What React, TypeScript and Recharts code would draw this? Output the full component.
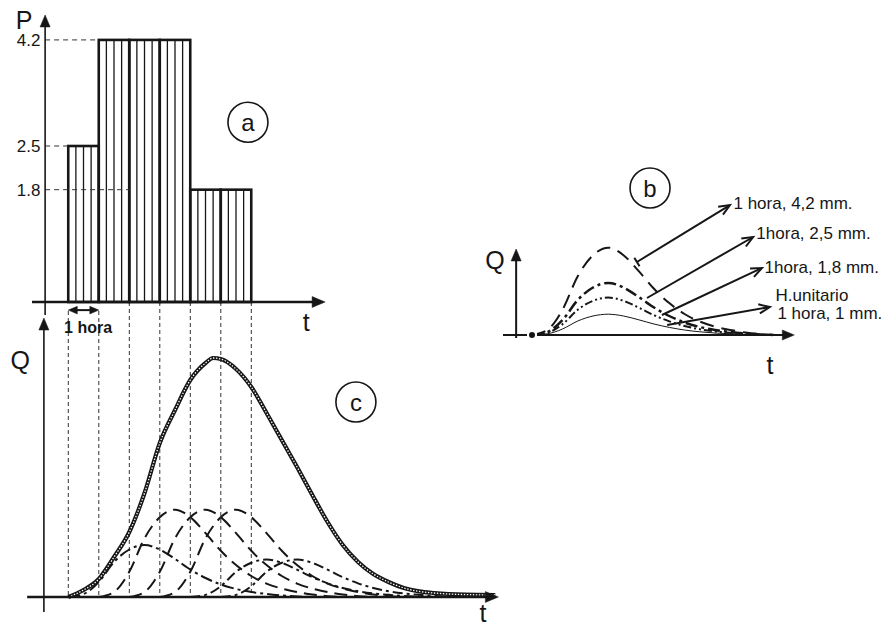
import React from 'react';
import { ComposedChart, Line, Bar, XAxis, YAxis, ReferenceLine, ReferenceDot } from 'recharts';

// rainfall hyetograph (a): hour start and depth in mm
const rainStart = [0, 1, 2, 3, 4, 5];
const rainDepth = [2.5, 4.2, 4.2, 4.2, 1.8, 1.8];
const pTicks = [4.2, 2.5, 1.8];
const pTickReach = [1, 0, 2]; // hour where each dashed guide stops

// unit hydrograph (1 hora, 1 mm)
const uhTime = [0, 0.5, 1, 1.5, 2, 2.5, 3, 3.5, 4, 4.5, 5, 5.5, 6, 6.5, 7, 7.5, 8];
const uhFlow = [0, 0.6, 3.0, 7.0, 9.5, 10.4, 9.5, 7.6, 5.5, 3.8, 2.5, 1.6, 1.0, 0.6, 0.3, 0.1, 0];

// total hydrograph (c)
const totalTime = [0, 0.5, 1, 1.5, 2, 2.5, 3, 3.5, 4, 4.5, 4.75, 5, 5.5, 6, 6.5, 7, 7.5, 8, 8.5, 9, 9.5, 10, 10.5, 11, 11.5, 12, 13, 14];
const totalFlow = [0, 3.5, 9, 20, 32.5, 52, 77, 93.5, 108.5, 117, 119.5, 119, 114, 105, 92, 78.5, 65, 51, 37.5, 26, 17.5, 11.5, 7.5, 4.5, 2.8, 2, 1.2, 1];

// panel (b)
const bDepth = [4.2, 2.5, 1.8, 1];

const W = 889;
const H = 626;
const HOUR_PX = 30.5;
const INK = '#161616';
const FONT = '"Liberation Sans", Arial, Helvetica, sans-serif';

const acX: [number, number] = [-68.3 / HOUR_PX, (W - 68.3) / HOUR_PX];
const bX: [number, number] = [-532 / HOUR_PX, (W - 532) / HOUR_PX];
const pDomain: [number, number] = [(302 - H) / 62.4, 302 / 62.4];
const qDomain: [number, number] = [(597 - H) / 2, 597 / 2];
const bqDomain: [number, number] = [(335 - H) / 2, 335 / 2];

const rainData = rainStart.map((s, i) => ({ t: s + 0.5, p: rainDepth[i] }));
const components = rainStart.map((s, i) => uhTime.map((u, k) => ({ t: s + u, q: rainDepth[i] * uhFlow[k] })));
const totalData = totalTime.map((t, i) => ({ t, q: totalFlow[i] }));
const bCurves = bDepth.map(d => uhTime.map((u, k) => ({ t: u, q: d * uhFlow[k] })));

const compDash = ['12 4 3 4', '13 7', '13 7', '13 7', '10 4 3 4', '10 4 3 4'];
const bDash = ['14 8', '12 4 3 4', '8 3 2 3 2 3', undefined];
const bWidth = [2, 2.5, 2, 1];

const txt = (value: string, fontSize: number, position = 'center', extra: any = {}) => ({
  value, position, offset: 0, fontSize, fill: INK, fontFamily: FONT, ...extra,
});

// line with arrow heads (filled or open)
const arrow = (opts: { both?: boolean; head?: number; open?: boolean; tick?: boolean } = {}) => (p: any) => {
  const { x1, y1, x2, y2 } = p;
  const head = opts.head ?? 10;
  const sw = p.strokeWidth ?? 1.5;
  const a = Math.atan2(y2 - y1, x2 - x1);
  const pts = (x: number, y: number, ang: number) => {
    const w = head * 0.42;
    const bx = x - head * Math.cos(ang);
    const by = y - head * Math.sin(ang);
    return [
      [bx + w * Math.sin(ang), by - w * Math.cos(ang)],
      [x, y],
      [bx - w * Math.sin(ang), by + w * Math.cos(ang)],
    ];
  };
  const cut = opts.open ? 1 : head * 0.7;
  const sx = opts.both ? x1 + cut * Math.cos(a) : x1;
  const sy = opts.both ? y1 + cut * Math.sin(a) : y1;
  const ex = x2 - cut * Math.cos(a);
  const ey = y2 - cut * Math.sin(a);
  const headEl = (x: number, y: number, ang: number) => {
    const h = pts(x, y, ang).map(q => q.join(',')).join(' ');
    return opts.open
      ? <polyline points={h} fill="none" stroke={INK} strokeWidth={sw} strokeLinejoin="miter" />
      : <polygon points={h} fill={INK} stroke={INK} strokeWidth={0.5} />;
  };
  return (
    <g>
      <line x1={sx} y1={sy} x2={ex} y2={ey} stroke={INK} strokeWidth={sw} />
      {headEl(x2, y2, a)}
      {opts.both && headEl(x1, y1, a + Math.PI)}
      {opts.tick && (
        <line x1={x1 - 5 * Math.sin(a)} y1={y1 + 5 * Math.cos(a)} x2={x1 + 5 * Math.sin(a)} y2={y1 - 5 * Math.cos(a)} stroke={INK} strokeWidth={sw} />
      )}
    </g>
  );
};

// each rain bar spans one full hour around its centre, hatched in quarters
const hatchBar = (props: any) => {
  const { x, y, width, height } = props;
  if (!height) return <g />;
  const left = x + width / 2 - HOUR_PX / 2;
  return (
    <g>
      {[1, 2, 3].map(k => (
        <line key={k} x1={left + (HOUR_PX * k) / 4} x2={left + (HOUR_PX * k) / 4} y1={y} y2={y + height} stroke={INK} strokeWidth={1.3} />
      ))}
      <rect x={left} y={y} width={HOUR_PX} height={height} fill="none" stroke={INK} strokeWidth={2.6} />
    </g>
  );
};

const Marker = (x: number, y: number, axis: string, label: any, key?: string) => (
  <ReferenceDot key={key} x={x} y={y} yAxisId={axis} r={0.5} fill="none" stroke="none" ifOverflow="visible" label={label} />
);

const Panel = (x: number, y: number, axis: string, letter: string) => (
  <ReferenceDot x={x} y={y} yAxisId={axis} r={20} fill="#fff" stroke={INK} strokeWidth={1.6} ifOverflow="visible" label={txt(letter, 24)} />
);

export default function App() {
  return (
    <div style={{ position: 'fixed', left: 0, top: 0, width: W, height: H, background: '#fff', fontFamily: FONT }}>
      <div style={{ position: 'absolute', left: 0, top: 0 }}>
        <ComposedChart width={W} height={H} data={rainData} margin={{ top: 0, right: 0, bottom: 0, left: 0 }}>
          <XAxis dataKey="t" type="number" domain={acX} allowDataOverflow hide />
          <YAxis yAxisId="p" type="number" domain={pDomain} allowDataOverflow hide />
          <YAxis yAxisId="q" type="number" domain={qDomain} allowDataOverflow hide />

          <Bar dataKey="p" yAxisId="p" shape={hatchBar} isAnimationActive={false} />

          {pTicks.map((v, i) => (
            <ReferenceLine key={'g' + i} yAxisId="p" ifOverflow="visible" stroke="#333" strokeWidth={1} strokeDasharray="5 4"
              segment={[{ x: -0.76, y: v }, { x: pTickReach[i], y: v }]} />
          ))}
          {pTicks.map((v, i) => Marker(-0.9, v, 'p', txt(String(v), 17, 'left'), 'pt' + i))}
          {[0, 1, 2, 3, 4, 5, 6].map(h => (
            <ReferenceLine key={'v' + h} yAxisId="q" ifOverflow="visible" stroke="#333" strokeWidth={1} strokeDasharray="4 3"
              segment={[{ x: h, y: h < 2 ? 143 : 147.5 }, { x: h, y: 0 }]} />
          ))}

          {components.map((d, i) => (
            <Line key={'c' + i} data={d} dataKey="q" yAxisId="q" type="monotone" dot={false} stroke={INK}
              strokeWidth={2} strokeDasharray={compDash[i]} isAnimationActive={false} />
          ))}
          <Line data={totalData} dataKey="q" yAxisId="q" type="monotone" dot={false} stroke={INK} strokeWidth={4.2} isAnimationActive={false} />
          <Line data={totalData} dataKey="q" yAxisId="q" type="monotone" dot={false} stroke="#fff" strokeWidth={1.3} strokeDasharray="1.4 1.6" isAnimationActive={false} />

          {/* axes of (a) */}
          <ReferenceLine yAxisId="p" ifOverflow="visible" strokeWidth={2.5} shape={arrow({ head: 13 })}
            segment={[{ x: -1.19, y: 0 }, { x: 8.42, y: 0 }]} />
          <ReferenceLine yAxisId="p" ifOverflow="visible" strokeWidth={1.6} shape={arrow({ head: 12 })}
            segment={[{ x: -0.76, y: -0.21 }, { x: -0.76, y: 4.6 }]} />
          <ReferenceLine yAxisId="p" ifOverflow="visible" strokeWidth={2} shape={arrow({ both: true, head: 9 })}
            segment={[{ x: 0, y: -0.13 }, { x: 1, y: -0.13 }]} />
          {/* axes of (c) */}
          <ReferenceLine yAxisId="q" ifOverflow="visible" strokeWidth={2.5} shape={arrow({ head: 13 })}
            segment={[{ x: -1.35, y: 0 }, { x: 14.1, y: 0 }]} />
          <ReferenceLine yAxisId="q" ifOverflow="visible" strokeWidth={1.6} shape={arrow({ head: 12 })}
            segment={[{ x: -0.8, y: -7.5 }, { x: -0.8, y: 139.5 }]} />

          {Marker(-1.45, 4.52, 'p', txt('P', 25))}
          {Marker(7.8, -0.32, 'p', txt('t', 25))}
          {Marker(0.65, -0.4, 'p', txt('1 hora', 16, 'center', { fontWeight: 'bold' }))}
          {Marker(-1.58, 118.5, 'q', txt('Q', 25))}
          {Marker(13.6, -8, 'q', txt('t', 25))}
          {Panel(5.89, 2.88, 'p', 'a')}
          {Panel(9.43, 97.5, 'q', 'c')}
        </ComposedChart>
      </div>

      <div style={{ position: 'absolute', left: 0, top: 0 }}>
        <ComposedChart width={W} height={H} margin={{ top: 0, right: 0, bottom: 0, left: 0 }}>
          <XAxis dataKey="t" type="number" domain={bX} allowDataOverflow hide />
          <YAxis yAxisId="b" type="number" domain={bqDomain} allowDataOverflow hide />

          {bCurves.map((d, i) => (
            <Line key={'b' + i} data={d} dataKey="q" yAxisId="b" type="monotone" dot={false} stroke={INK}
              strokeWidth={bWidth[i]} strokeDasharray={bDash[i]} isAnimationActive={false} />
          ))}

          <ReferenceLine yAxisId="b" ifOverflow="visible" strokeWidth={2} shape={arrow({ head: 12 })}
            segment={[{ x: -0.95, y: 0 }, { x: 8.6, y: 0 }]} />
          <ReferenceLine yAxisId="b" ifOverflow="visible" strokeWidth={2} shape={arrow({ head: 12 })}
            segment={[{ x: -0.52, y: -1.5 }, { x: -0.52, y: 43 }]} />

          <ReferenceLine yAxisId="b" ifOverflow="visible" strokeWidth={2} shape={arrow({ head: 11, open: true, tick: true })}
            segment={[{ x: 3.44, y: 36.5 }, { x: 6.49, y: 65 }]} />
          <ReferenceLine yAxisId="b" ifOverflow="visible" strokeWidth={2} shape={arrow({ head: 11, open: true })}
            segment={[{ x: 3.77, y: 18.5 }, { x: 7.25, y: 49 }]} />
          <ReferenceLine yAxisId="b" ifOverflow="visible" strokeWidth={2} shape={arrow({ head: 11, open: true })}
            segment={[{ x: 4.26, y: 10 }, { x: 7.54, y: 33.5 }]} />
          <ReferenceLine yAxisId="b" ifOverflow="visible" strokeWidth={2} shape={arrow({ head: 11, open: true })}
            segment={[{ x: 4.43, y: 5 }, { x: 7.8, y: 14 }]} />

          {Marker(6.59, 66, 'b', txt('1 hora, 4,2 mm.', 17, 'right'))}
          {Marker(7.34, 51, 'b', txt('1hora, 2,5 mm.', 17, 'right'))}
          {Marker(7.61, 34, 'b', txt('1hora, 1,8 mm.', 17, 'right'))}
          {Marker(7.97, 20, 'b', txt('H.unitario', 17, 'right'))}
          {Marker(8.03, 11, 'b', txt('1 hora, 1 mm.', 17, 'right'))}
          {Marker(-1.21, 37.5, 'b', txt('Q', 25))}
          {Marker(7.8, -15, 'b', txt('t', 25))}
          {Panel(3.87, 73.5, 'b', 'b')}
        </ComposedChart>
      </div>
    </div>
  );
}
